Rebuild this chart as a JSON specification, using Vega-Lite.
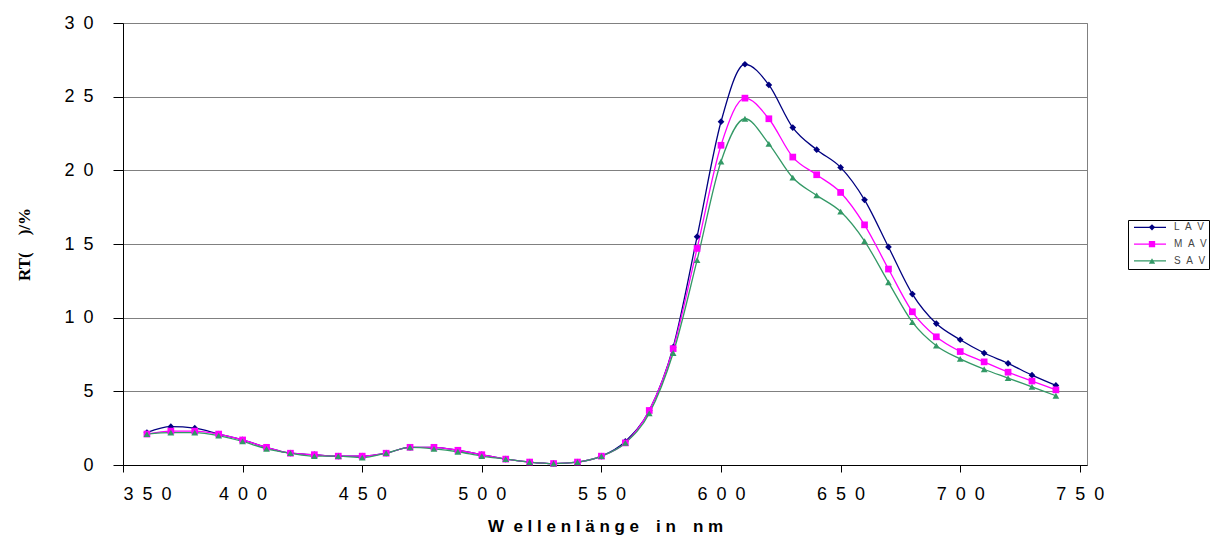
{
  "$schema": "https://vega.github.io/schema/vega-lite/v6.json",
  "autosize": {"type": "none"},
  "padding": {"left": 123, "top": 23, "right": 132, "bottom": 73},
  "width": 964,
  "height": 442,
  "background": "white",
  "config": {
    "view": {"stroke": "#808080", "strokeWidth": 1},
    "font": "Liberation Sans"
  },
  "data": {"values": [
    {"wl":360,"series":"LAV","r":2.2},{"wl":370,"series":"LAV","r":2.6},{"wl":380,"series":"LAV","r":2.5},{"wl":390,"series":"LAV","r":2.1},{"wl":400,"series":"LAV","r":1.7},{"wl":410,"series":"LAV","r":1.2},{"wl":420,"series":"LAV","r":0.8},{"wl":430,"series":"LAV","r":0.7},{"wl":440,"series":"LAV","r":0.6},{"wl":450,"series":"LAV","r":0.6},{"wl":460,"series":"LAV","r":0.8},{"wl":470,"series":"LAV","r":1.2},{"wl":480,"series":"LAV","r":1.2},{"wl":490,"series":"LAV","r":1.0},{"wl":500,"series":"LAV","r":0.7},{"wl":510,"series":"LAV","r":0.4},{"wl":520,"series":"LAV","r":0.2},{"wl":530,"series":"LAV","r":0.1},{"wl":540,"series":"LAV","r":0.2},{"wl":550,"series":"LAV","r":0.6},{"wl":560,"series":"LAV","r":1.6},{"wl":570,"series":"LAV","r":3.7},{"wl":580,"series":"LAV","r":8.0},{"wl":590,"series":"LAV","r":15.5},{"wl":600,"series":"LAV","r":23.3},{"wl":610,"series":"LAV","r":27.2},{"wl":620,"series":"LAV","r":25.8},{"wl":630,"series":"LAV","r":22.9},{"wl":640,"series":"LAV","r":21.4},{"wl":650,"series":"LAV","r":20.2},{"wl":660,"series":"LAV","r":18.0},{"wl":670,"series":"LAV","r":14.8},{"wl":680,"series":"LAV","r":11.6},{"wl":690,"series":"LAV","r":9.6},{"wl":700,"series":"LAV","r":8.5},{"wl":710,"series":"LAV","r":7.6},{"wl":720,"series":"LAV","r":6.9},{"wl":730,"series":"LAV","r":6.1},{"wl":740,"series":"LAV","r":5.4},
    {"wl":360,"series":"MAV","r":2.1},{"wl":370,"series":"MAV","r":2.3},{"wl":380,"series":"MAV","r":2.3},{"wl":390,"series":"MAV","r":2.1},{"wl":400,"series":"MAV","r":1.7},{"wl":410,"series":"MAV","r":1.2},{"wl":420,"series":"MAV","r":0.8},{"wl":430,"series":"MAV","r":0.7},{"wl":440,"series":"MAV","r":0.6},{"wl":450,"series":"MAV","r":0.6},{"wl":460,"series":"MAV","r":0.8},{"wl":470,"series":"MAV","r":1.2},{"wl":480,"series":"MAV","r":1.2},{"wl":490,"series":"MAV","r":1.0},{"wl":500,"series":"MAV","r":0.7},{"wl":510,"series":"MAV","r":0.4},{"wl":520,"series":"MAV","r":0.2},{"wl":530,"series":"MAV","r":0.1},{"wl":540,"series":"MAV","r":0.2},{"wl":550,"series":"MAV","r":0.6},{"wl":560,"series":"MAV","r":1.5},{"wl":570,"series":"MAV","r":3.7},{"wl":580,"series":"MAV","r":7.9},{"wl":590,"series":"MAV","r":14.7},{"wl":600,"series":"MAV","r":21.7},{"wl":610,"series":"MAV","r":24.9},{"wl":620,"series":"MAV","r":23.5},{"wl":630,"series":"MAV","r":20.9},{"wl":640,"series":"MAV","r":19.7},{"wl":650,"series":"MAV","r":18.5},{"wl":660,"series":"MAV","r":16.3},{"wl":670,"series":"MAV","r":13.3},{"wl":680,"series":"MAV","r":10.4},{"wl":690,"series":"MAV","r":8.7},{"wl":700,"series":"MAV","r":7.7},{"wl":710,"series":"MAV","r":7.0},{"wl":720,"series":"MAV","r":6.3},{"wl":730,"series":"MAV","r":5.7},{"wl":740,"series":"MAV","r":5.1},
    {"wl":360,"series":"SAV","r":2.1},{"wl":370,"series":"SAV","r":2.2},{"wl":380,"series":"SAV","r":2.2},{"wl":390,"series":"SAV","r":2.0},{"wl":400,"series":"SAV","r":1.6},{"wl":410,"series":"SAV","r":1.1},{"wl":420,"series":"SAV","r":0.8},{"wl":430,"series":"SAV","r":0.6},{"wl":440,"series":"SAV","r":0.6},{"wl":450,"series":"SAV","r":0.5},{"wl":460,"series":"SAV","r":0.8},{"wl":470,"series":"SAV","r":1.2},{"wl":480,"series":"SAV","r":1.1},{"wl":490,"series":"SAV","r":0.9},{"wl":500,"series":"SAV","r":0.6},{"wl":510,"series":"SAV","r":0.4},{"wl":520,"series":"SAV","r":0.2},{"wl":530,"series":"SAV","r":0.1},{"wl":540,"series":"SAV","r":0.2},{"wl":550,"series":"SAV","r":0.6},{"wl":560,"series":"SAV","r":1.5},{"wl":570,"series":"SAV","r":3.5},{"wl":580,"series":"SAV","r":7.6},{"wl":590,"series":"SAV","r":13.9},{"wl":600,"series":"SAV","r":20.6},{"wl":610,"series":"SAV","r":23.5},{"wl":620,"series":"SAV","r":21.8},{"wl":630,"series":"SAV","r":19.5},{"wl":640,"series":"SAV","r":18.3},{"wl":650,"series":"SAV","r":17.2},{"wl":660,"series":"SAV","r":15.2},{"wl":670,"series":"SAV","r":12.4},{"wl":680,"series":"SAV","r":9.7},{"wl":690,"series":"SAV","r":8.1},{"wl":700,"series":"SAV","r":7.2},{"wl":710,"series":"SAV","r":6.5},{"wl":720,"series":"SAV","r":5.9},{"wl":730,"series":"SAV","r":5.3},{"wl":740,"series":"SAV","r":4.7}
  ]},
  "encoding": {
    "x": {
      "field": "wl", "type": "quantitative",
      "scale": {"domain": [350, 753], "nice": false, "zero": false},
      "axis": {
        "values": [350, 400, 450, 500, 550, 600, 650, 700, 750],
        "grid": false,
        "domainColor": "black", "tickColor": "black", "tickSize": 7,
        "labelFontSize": 18, "labelColor": "black", "labelPadding": 13,
        "labelFont": "Liberation Sans",
        "labelExpr": "join(split(datum.label, ''), '\u2002')",
        "title": "W\u00a0\u00a0e\u00a0l\u00a0l\u00a0e\u00a0n\u00a0l\u00a0ä\u00a0n\u00a0g\u00a0e\u2002\u2002i\u00a0n\u2002\u2002n\u00a0m",
        "titleFont": "Liberation Sans", "titleFontSize": 17, "titleFontWeight": "bold",
        "titleColor": "black", "titlePadding": 15
      }
    },
    "y": {
      "field": "r", "type": "quantitative",
      "scale": {"domain": [0, 30], "nice": false},
      "axis": {
        "values": [0, 5, 10, 15, 20, 25, 30],
        "grid": true, "gridColor": "#808080", "gridWidth": 1, "gridOpacity": 1,
        "domainColor": "black", "tickColor": "black", "tickSize": 10,
        "labelFontSize": 18, "labelColor": "black", "labelPadding": 20,
        "labelFont": "Liberation Sans",
        "labelExpr": "join(split(datum.label, ''), '\u2002')",
        "title": "RT(\u2002\u2002)/%",
        "titleFont": "Liberation Serif", "titleFontSize": 17, "titleFontWeight": "bold",
        "titleColor": "black", "titlePadding": 30
      }
    }
  },
  "layer": [
    {
      "mark": {"type": "line", "interpolate": "monotone", "strokeWidth": 1.3},
      "encoding": {
        "stroke": {
          "field": "series", "type": "nominal",
          "scale": {"domain": ["LAV", "MAV", "SAV"], "range": ["#000080", "#FF00FF", "#339966"]},
          "legend": {
            "orient": "none", "legendX": 1005, "legendY": 197,
            "title": null,
            "symbolType": "stroke", "symbolSize": 1024, "symbolStrokeWidth": 1.3, "symbolOffset": 3,
            "clipHeight": 10.6, "rowPadding": 5.8,
            "labelFontSize": 10, "labelColor": "#444444", "labelFont": "Liberation Sans",
            "labelOffset": 7,
            "labelExpr": "join(split(datum.label, ''), '\u00a0\u00a0') + '\u2002\u2002\u2002'",
            "strokeColor": "black", "padding": 2,
            "fillColor": "white"
          }
        }
      }
    },
    {
      "mark": {"type": "point", "filled": true, "opacity": 1, "size": 45},
      "encoding": {
        "fill": {
          "field": "series", "type": "nominal",
          "scale": {"range": ["#000080", "#FF00FF", "#339966"]},
          "legend": {
            "orient": "none", "legendX": 1022, "legendY": 197,
            "title": null, "symbolSize": 40, "labelExpr": "''",
            "clipHeight": 10.6, "rowPadding": 5.8, "padding": 2
          }
        },
        "shape": {
          "field": "series", "type": "nominal",
          "scale": {"range": ["diamond", "square", "triangle-up"]}
        }
      }
    }
  ]
}
